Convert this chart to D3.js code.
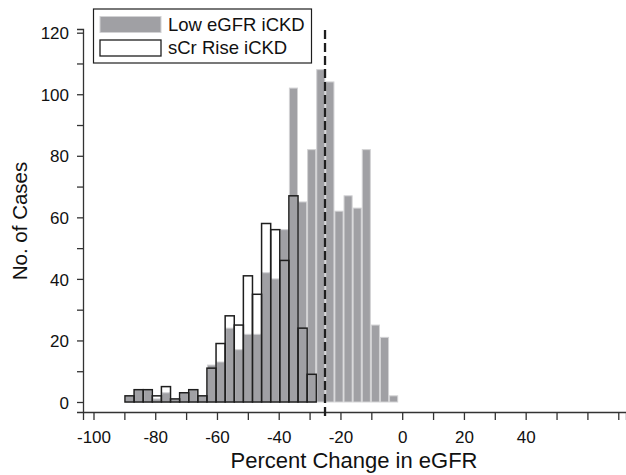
<!DOCTYPE html>
<html>
<head>
<meta charset="utf-8">
<script src="https://cdn.jsdelivr.net/npm/d3@7"></script>
<style>
  body { margin: 0; background: #fff; }
  svg { display: block; font-family: "Liberation Sans", Arial, sans-serif; }
</style>
</head>
<body>
<div id="chart"></div>
<script>
var width = 626,
    height = 475;

// histogram counts (30 bins from about -90 to -1)
var lowEgfr = [2, 4, 4, 1, 3, 1, 3, 4, 2, 12, 13, 24, 17, 22, 22, 42, 40, 56, 102, 65, 82, 108, 104, 62, 67, 63, 82, 25, 21, 2];
var scrRise = [2, 4, 4, 2, 5, 1, 3, 4, 2, 11, 19, 28, 25, 41, 35, 58, 56, 46, 67, 24, 9];
var binStart = -89.8,
    binWidth = 2.95;
var cutoff = -25;

var xTicks = [-100, -90, -80, -70, -60, -50, -40, -30, -20, -10, 0, 10, 20, 30, 40, 50, 60, 70];
var xLabels = [-100, -80, -60, -40, -20, 0, 20, 40];
var yTicks = [0, 10, 20, 30, 40, 50, 60, 70, 80, 90, 100, 110, 120];
var yLabels = [0, 20, 40, 60, 80, 100, 120];

var legendNames = ['Low eGFR iCKD', 'sCr Rise iCKD'];

var grayFill = '#a0a0a4',
    grayEdge = '#d2d2d4',
    ink = '#1e1e1e';

var x = d3.scaleLinear().domain([-103.4, 72.5]).range([83, 626]);
var y = d3.scaleLinear().domain([-3.25, 121.2]).range([412, 29]);

var svg = d3.select('#chart').append('svg')
  .attr('width', width)
  .attr('height', height);

function binLo(i) { return binStart + i * binWidth; }
var barW = x(binStart + binWidth) - x(binStart);

// white fill of the sCr bars goes underneath
svg.append('g').selectAll('rect')
  .data(scrRise)
  .enter().append('rect')
  .attr('x', (d, i) => x(binLo(i)))
  .attr('width', barW)
  .attr('y', d => y(d))
  .attr('height', d => y(0) - y(d))
  .attr('fill', '#fff');

svg.append('g').selectAll('rect')
  .data(lowEgfr)
  .enter().append('rect')
  .attr('x', (d, i) => x(binLo(i)) + 0.5)
  .attr('width', barW - 1)
  .attr('y', d => y(d))
  .attr('height', d => y(0) - y(d))
  .attr('fill', grayFill)
  .attr('stroke', grayEdge)
  .attr('stroke-width', 1);

// black outlines drawn on top
svg.append('g').selectAll('rect')
  .data(scrRise)
  .enter().append('rect')
  .attr('x', (d, i) => x(binLo(i)))
  .attr('width', barW)
  .attr('y', d => y(d))
  .attr('height', d => y(0) - y(d))
  .attr('fill', 'none')
  .attr('stroke', ink)
  .attr('stroke-width', 1.5);

// axes
var xAxis = d3.axisBottom(x)
  .tickValues(xTicks)
  .tickSize(8)
  .tickPadding(11)
  .tickFormat(d => xLabels.includes(d) ? d : '');

var yAxis = d3.axisLeft(y)
  .tickValues(yTicks)
  .tickSize(6)
  .tickPadding(8)
  .tickFormat(d => yLabels.includes(d) ? d : '');

var gx = svg.append('g')
  .attr('transform', 'translate(0,' + y.range()[0] + ')')
  .call(xAxis);

var gy = svg.append('g')
  .attr('transform', 'translate(' + x.range()[0] + ',0)')
  .call(yAxis);

[gx, gy].forEach(g => {
  g.select('.domain').attr('stroke', '#333').attr('stroke-width', 1.3);
  g.selectAll('.tick line').attr('stroke', '#333').attr('stroke-width', 1.3);
  g.selectAll('.tick text')
    .attr('fill', '#111')
    .style('font-size', '17px')
    .style('font-family', '"Liberation Sans", Arial, sans-serif');
});
gy.selectAll('.tick text').attr('dy', '0.36em');

// cutoff line
svg.append('line')
  .attr('x1', x(cutoff)).attr('x2', x(cutoff))
  .attr('y1', 30).attr('y2', 418)
  .attr('stroke', ink)
  .attr('stroke-width', 2.3)
  .attr('stroke-dasharray', '9,4');

// axis titles
svg.append('text')
  .attr('x', 354)
  .attr('y', 468)
  .attr('text-anchor', 'middle')
  .style('font-size', '22px')
  .attr('fill', '#111')
  .text('Percent Change in eGFR');

svg.append('text')
  .attr('transform', 'translate(27,221) rotate(-90)')
  .attr('text-anchor', 'middle')
  .style('font-size', '20.5px')
  .attr('fill', '#111')
  .text('No. of Cases');

// legend
var legend = svg.append('g');

legend.append('rect')
  .attr('x', 93.5).attr('y', 9)
  .attr('width', 218).attr('height', 54)
  .attr('fill', '#fff')
  .attr('stroke', ink)
  .attr('stroke-width', 1.2);

legend.append('rect')
  .attr('x', 100).attr('y', 16.5)
  .attr('width', 61).attr('height', 16)
  .attr('fill', grayFill)
  .attr('stroke', grayEdge);

legend.append('rect')
  .attr('x', 100).attr('y', 40)
  .attr('width', 61).attr('height', 16)
  .attr('fill', '#fff')
  .attr('stroke', ink)
  .attr('stroke-width', 1.3);

legend.selectAll('.legend-label')
  .data(legendNames)
  .enter().append('text')
  .attr('class', 'legend-label')
  .attr('x', 168)
  .attr('y', (d, i) => i === 0 ? 30.5 : 53.5)
  .style('font-size', '18.5px')
  .attr('fill', '#111')
  .text(d => d);
</script>
</body>
</html>
